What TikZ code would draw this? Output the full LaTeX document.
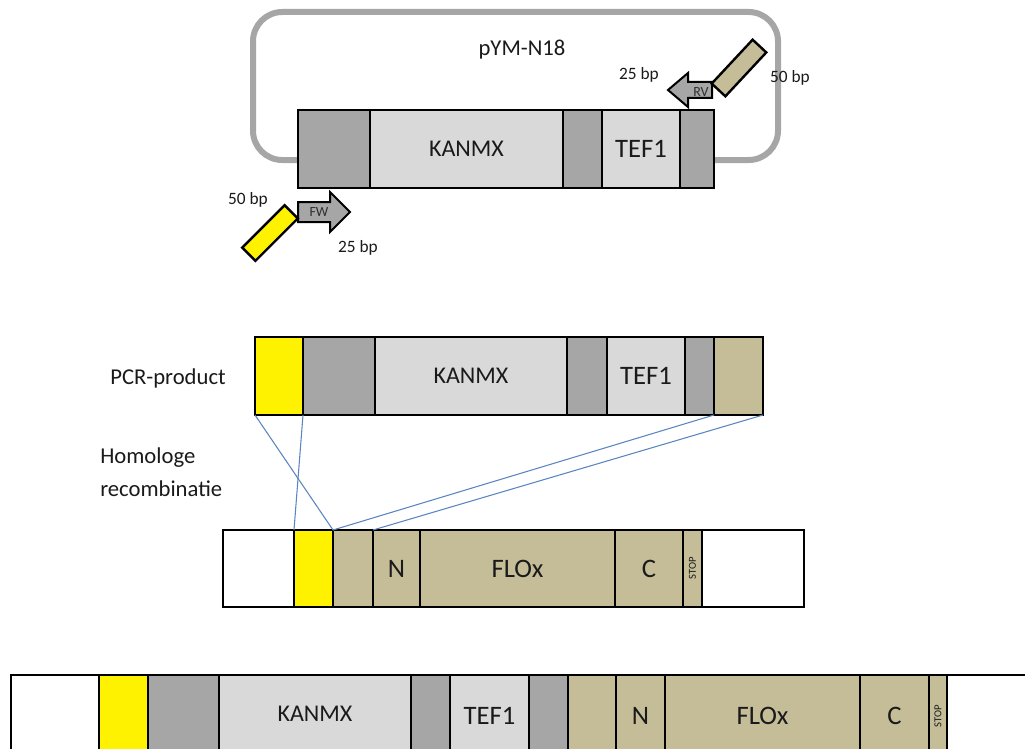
\documentclass[tikz,border=0pt]{standalone}
\usepackage{fontspec}
\setmainfont{Carlito}
\usetikzlibrary{fit}
\definecolor{dgray}{HTML}{A6A6A6}
\definecolor{lgray}{HTML}{D9D9D9}
\definecolor{tanc}{HTML}{C4BD97}
\definecolor{lnblue}{HTML}{5B85C0}
\definecolor{txt}{HTML}{1A1A1A}
\newcommand{\segbox}[6]{\node[segbox, #6, fit={(#2,#4) (#3,#5)}] (#1) {};}
\begin{document}
\begin{tikzpicture}[x=0.75pt,y=-0.75pt,
  segbox/.style={draw=black, line width=1.8pt, inner sep=0pt, outer sep=0pt},
  segtxt/.style={text=txt, font=\fontsize{18}{20}\selectfont, inner sep=0pt},
  bigtxt/.style={text=txt, font=\fontsize{20}{22}\selectfont, inner sep=0pt},
  lbl/.style={text=txt, font=\fontsize{17}{20}\selectfont, inner sep=0pt},
  bp/.style={text=txt, font=\fontsize{13}{15}\selectfont, inner sep=0pt},
  tiny/.style={text=txt, font=\fontsize{8}{9}\selectfont, inner sep=0pt},
  primtxt/.style={text=txt!85!dgray, font=\fontsize{10.5}{12}\selectfont, inner sep=0pt},
  primer/.style={draw=black, line width=1.8pt, inner sep=0pt, minimum width=45pt, minimum height=14pt},
  arrowbody/.style={draw=black, line width=1.5pt, fill=dgray, line join=miter},
  link/.style={draw=lnblue, line width=0.8pt}]
\useasboundingbox (0,0) rectangle (1025,749);
\clip (0,0) rectangle (1025,749);

% ---------- plasmid ----------
\node[draw=dgray, line width=4.5pt, rounded corners=22pt, inner sep=0pt, fit={(253,12) (778,160)}] (plasmid) {};
\node[lbl] (ptitle) at (522,50) {pYM-N18};

\segbox{pa}{298}{370}{110}{188}{fill=dgray}
\segbox{pk}{370}{563}{110}{188}{fill=lgray}
\segbox{pb}{563}{602}{110}{188}{fill=dgray}
\segbox{pt}{602}{680}{110}{188}{fill=lgray}
\segbox{pc}{680}{714}{110}{188}{fill=dgray}
\node[segtxt] (pkl) at (pk.center) {KANMX};
\node[bigtxt] (ptl) at (pt.center) {TEF1};

% RV primer
\draw[arrowbody] (712,82) -- (688,82) -- (688,73) -- (668,90) -- (688,107) -- (688,98) -- (712,98) -- cycle;
\node[primtxt] (rvl) at (701,92) {RV};
\node[primer, fill=tanc, rotate=47] (rvp) at (739,68) {};
\node[bp] (rv25) at (639,75) {25 bp};
\node[bp] (rv50) at (790,78) {50 bp};

% FW primer
\draw[arrowbody] (298,202) -- (330,202) -- (330,192) -- (350,212) -- (330,232) -- (330,222) -- (298,222) -- cycle;
\node[primtxt] (fwl) at (319,212) {FW};
\node[primer, fill=yellow, rotate=45] (fwp) at (270,233) {};
\node[bp] (fw50) at (248,200) {50 bp};
\node[bp] (fw25) at (358,248) {25 bp};

% ---------- PCR product ----------
\node[lbl] (pcrlbl) at (168,378) {PCR-product};
\node[lbl, align=left, anchor=north west, font=\fontsize{17}{25}\selectfont] (homlbl) at (100,447) {Homologe\\recombinatie};

\segbox{qy}{255}{303}{337}{415}{fill=yellow}
\segbox{qa}{303}{375}{337}{415}{fill=dgray}
\segbox{qk}{375}{567}{337}{415}{fill=lgray}
\segbox{qb}{567}{607}{337}{415}{fill=dgray}
\segbox{qt}{607}{685}{337}{415}{fill=lgray}
\segbox{qc}{685}{714}{337}{415}{fill=dgray}
\segbox{qn}{714}{763}{337}{415}{fill=tanc}
\node[segtxt] (qkl) at (qk.center) {KANMX};
\node[bigtxt] (qtl) at (qt.center) {TEF1};

% ---------- genome ----------
\segbox{gw1}{223}{294}{530}{607}{fill=white}
\segbox{gy}{294}{333}{530}{607}{fill=yellow}
\segbox{gt}{333}{373}{530}{607}{fill=tanc}
\segbox{gn}{373}{420}{530}{607}{fill=tanc}
\segbox{gf}{420}{615}{530}{607}{fill=tanc}
\segbox{gc}{615}{683}{530}{607}{fill=tanc}
\segbox{gs}{683}{702}{530}{607}{fill=tanc}
\segbox{gw2}{702}{804}{530}{607}{fill=white}
\node[bigtxt] (gnl) at (gn.center) {N};
\node[bigtxt] (gfl) at (gf.center) {FLOx};
\node[bigtxt] (gcl) at (gc.center) {C};
\node[tiny, rotate=90] (gsl) at (gs.center) {STOP};

% ---------- homologous recombination lines ----------
\draw[link] (qy.south west) -- (gy.north east);
\draw[link] (qy.south east) -- (gy.north west);
\draw[link] (qc.south east) -- (gy.north east);
\draw[link] (qn.south east) -- (gt.north east);

% ---------- result ----------
\segbox{rw1}{11}{99}{675}{770}{fill=white}
\segbox{ry}{99}{148}{675}{770}{fill=yellow}
\segbox{ra}{148}{219}{675}{770}{fill=dgray}
\segbox{rk}{219}{411}{675}{770}{fill=lgray}
\segbox{rb}{411}{450}{675}{770}{fill=dgray}
\segbox{rt}{450}{529}{675}{770}{fill=lgray}
\segbox{rc}{529}{568}{675}{770}{fill=dgray}
\segbox{rtn}{568}{616}{675}{770}{fill=tanc}
\segbox{rn}{616}{665}{675}{770}{fill=tanc}
\segbox{rf}{665}{860}{675}{770}{fill=tanc}
\segbox{rcc}{860}{929}{675}{770}{fill=tanc}
\segbox{rs}{929}{947}{675}{770}{fill=tanc}
\segbox{rw2}{947}{1040}{675}{770}{fill=white}
\node[segtxt] (rkl) at (315,714) {KANMX};
\node[bigtxt] (rtl) at (489.5,716) {TEF1};
\node[bigtxt] (rnl) at (640.5,716) {N};
\node[bigtxt] (rfl) at (762.5,716) {FLOx};
\node[bigtxt] (rcl) at (894.5,716) {C};
\node[tiny, rotate=90] (rsl) at (938,716) {STOP};
\end{tikzpicture}
\end{document}
